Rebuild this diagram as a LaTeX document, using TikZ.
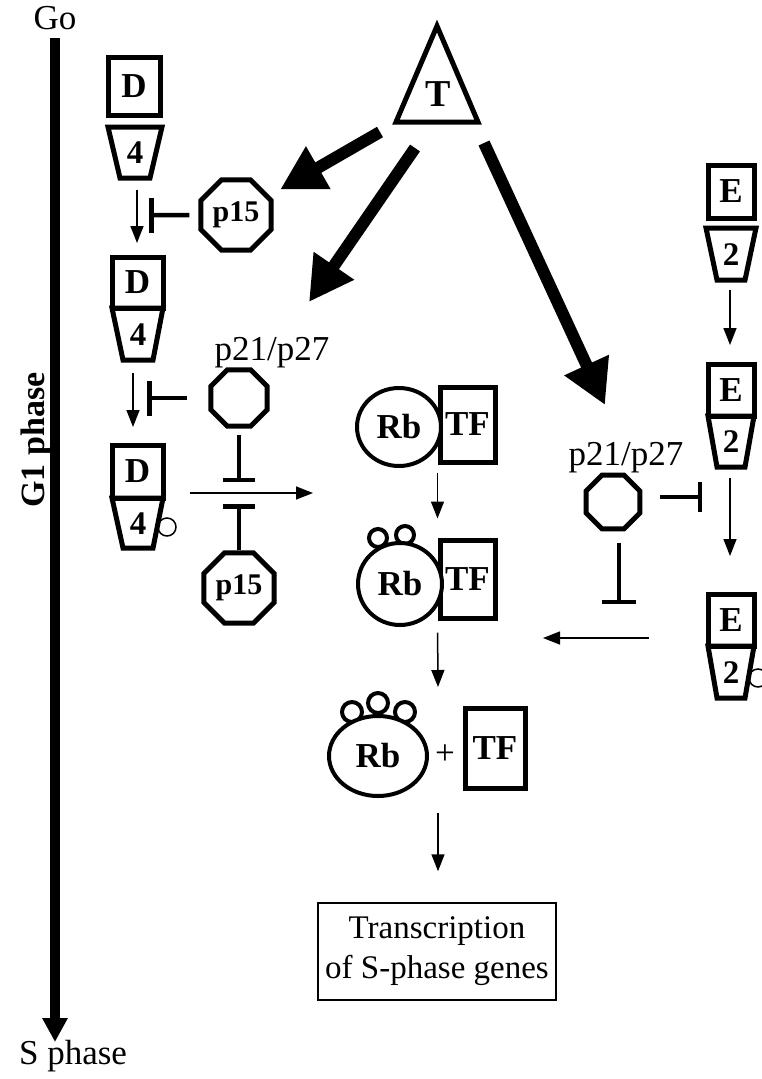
\documentclass[tikz,border=0pt]{standalone}
\usepackage{fontspec}
\setmainfont{Liberation Serif}
\usetikzlibrary{arrows.meta,shapes.geometric}
\newcommand\boldlbl{\bfseries\fontsize{35}{38}\selectfont}
\newcommand\numlbl{\bfseries\fontsize{33}{36}\selectfont}
\newcommand\plainlbl{\fontsize{35}{38}\selectfont}

\begin{document}
\begin{tikzpicture}[x=1pt,y=-1pt,
    unit/.style={draw,line width=5pt,inner sep=0pt,font=\boldlbl},
    cdk/.style={draw,line width=5pt,line join=miter},
    octo/.style={regular polygon,regular polygon sides=8,draw,line width=5pt,inner sep=0pt,
                 font=\bfseries\fontsize{30}{34}\selectfont},
    rbnode/.style={ellipse,draw,line width=4pt,fill=white,inner sep=0pt,font=\bfseries\fontsize{35}{38}\selectfont},
    phos/.style={circle,draw,line width=4pt,minimum size=18pt,inner sep=0pt},
    flow/.style={line width=1.5pt,-{Triangle[length=17pt,width=13pt]}},
    push/.style={line width=12pt,-{Triangle[length=44pt,width=46pt]}},
    block/.style={line width=4.5pt,-{Bar[width=#1]}},
    block/.default=34pt]
  \useasboundingbox (0,0) rectangle (761,1079);

  % time axis
  \node[font=\plainlbl] (go) at (55,18) {Go};
  \node[font=\plainlbl] (sph) at (73,1056) {S phase};
  \coordinate (axend) at (55,1042);
  \draw[line width=10pt,-{Triangle[length=24pt,width=24pt]},shorten <=5pt] (go.south) -- (axend);
  \node[rotate=90,font=\bfseries\fontsize{34}{38}\selectfont] (gone) at (36,440) {G1 phase};

  % cyclin D / cdk4
  \node[unit,minimum width=52pt,minimum height=58pt] (d1) at (134,86) {D};
  \draw[cdk] (108,127) -- (162,127) -- (150,178) -- (120,178) -- cycle;
  \node[font=\numlbl] (k1) at (135,153) {4};
  \coordinate (k1b) at (137,178);
  \node[unit,minimum width=51pt,minimum height=51pt] (d2) at (137.5,282.5) {D};
  \draw[cdk] (112,308) -- (163,308) -- (153,360) -- (123,360) -- cycle;
  \node[font=\numlbl] (k2) at (138,335) {4};
  \coordinate (k2b) at (133,360);
  \node[unit,minimum width=51pt,minimum height=53pt] (d3) at (137.5,471.5) {D};
  \draw[cdk] (112,498) -- (163,498) -- (153,548) -- (123,548) -- cycle;
  \node[font=\numlbl] (k3) at (138,524) {4};
  \draw[line width=1.5pt] (167,527) circle[radius=9];
  \draw[flow,shorten <=11.5pt,shorten >=11.5pt] (k1b) -- (k1b |- d2.north);
  \draw[flow,shorten <=12.5pt,shorten >=15.5pt] (k2b) -- (k2b |- d3.north);

  % inhibitors on the left
  \node[octo,minimum size=76pt] (p15a) at (236,215) {p15};
  \coordinate (bar1) at (149,215);
  \draw[block=35pt,shorten <=9pt] (p15a) -- (bar1);
  \node[octo,minimum size=61pt] (p21a) at (239,398) {};
  \node[font=\plainlbl] (l21a) at (272,353) {p21/p27};
  \coordinate (bar2) at (147,398);
  \draw[block=35pt,shorten <=21pt] (p21a) -- (bar2);
  \node[octo,minimum size=76pt] (p15b) at (239,588) {p15};
  \coordinate (arr1) at (313,493);
  \draw[flow,shorten <=24pt] (d3.east |- arr1) -- (arr1);
  \coordinate (bar3) at (239,482);
  \coordinate (bar4) at (239,504);
  \draw[block=32pt,shorten <=6pt] (p21a) -- (bar3);
  \draw[block=32pt] (p15b) -- (bar4);

  % T and its arrows
  \draw[line width=5pt,line join=miter] (437,26) -- (478,122) -- (396,122) -- cycle;
  \node[font=\bfseries\fontsize{38}{40}\selectfont] (tgf) at (438,94) {T};
  \coordinate (ta) at (380,132);
  \coordinate (tb) at (415,148);
  \coordinate (tc) at (484,143);
  \coordinate (eb) at (309,302);
  \coordinate (ec) at (605,405);
  \draw[push,shorten >=12pt] (ta) -- (p15a);
  \draw[push] (tb) -- (eb);
  \draw[push] (tc) -- (ec);

  % Rb and TF
  \node[unit,minimum width=55pt,minimum height=75pt] (tf1) at (467.5,424.5) {TF};
  \node[rbnode,minimum width=84pt,minimum height=78pt] (rb1) at (399,427) {Rb};
  \node[unit,minimum width=55pt,minimum height=78pt] (tf2) at (467.5,579) {TF};
  \node[phos] (ph1) at (378,538) {};
  \node[phos] (ph2) at (405,535) {};
  \node[rbnode,minimum width=84pt,minimum height=82pt] (rb2) at (400,584) {Rb};
  \draw[flow,shorten <=8pt,shorten >=19pt] (tf1.south west) -- (tf1.south west |- tf2.north);
  \coordinate (arr2) at (438,687);
  \draw[flow,shorten <=12pt] (tf2.south west) -- (arr2);
  \node[phos,minimum size=20pt] (ph3) at (352,712) {};
  \node[phos,minimum size=20pt] (ph4) at (378,703) {};
  \node[phos,minimum size=20pt] (ph5) at (405,712) {};
  \node[rbnode,minimum width=98pt,minimum height=80pt] (rb3) at (378,756) {Rb};
  \node[font=\plainlbl] (plus) at (445,755) {+};
  \node[unit,minimum width=60pt,minimum height=80pt] (tf3) at (495,748) {TF};
  \node[draw,line width=1.5pt,minimum width=238pt,minimum height=97pt,align=center,
        font=\fontsize{33}{40}\selectfont] (trn) at (437,951.5) {Transcription\\of S-phase genes};
  \draw[flow,shorten <=22pt,shorten >=31pt] (arr2 |- tf3.south) -- (arr2 |- trn.north);

  % cyclin E / cdk2
  \node[unit,minimum width=46pt,minimum height=53pt] (e1) at (731,191.5) {E};
  \draw[cdk] (706,228) -- (756,228) -- (745,280) -- (717,280) -- cycle;
  \node[font=\numlbl] (j1) at (731,255) {2};
  \coordinate (j1b) at (730,280);
  \node[unit,minimum width=46pt,minimum height=52pt] (e2) at (731,390) {E};
  \draw[cdk] (708,416) -- (754,416) -- (745,467) -- (717,467) -- cycle;
  \node[font=\numlbl] (j2) at (731,442) {2};
  \coordinate (j2b) at (730,467);
  \node[unit,minimum width=46pt,minimum height=52pt] (e3) at (731,620) {E};
  \draw[cdk] (708,646) -- (754,646) -- (745,698) -- (717,698) -- cycle;
  \node[font=\numlbl] (j3) at (731,673) {2};
  \draw[line width=1.5pt] (758,678) circle[radius=9];
  \draw[flow,shorten <=9.5pt,shorten >=16.5pt] (j1b) -- (j1b |- e2.north);
  \draw[flow,shorten <=10.5pt,shorten >=35.5pt] (j2b) -- (j2b |- e3.north);

  % inhibitor on the right
  \node[octo,minimum size=58pt] (p21b) at (613,502) {};
  \node[font=\plainlbl] (l21b) at (626,458) {p21/p27};
  \coordinate (bar5) at (702,497);
  \draw[block=30pt,shorten <=18pt] (p21b.east |- bar5) -- (bar5);
  \coordinate (bar6) at (619,604);
  \draw[block=34pt,shorten <=12pt] (p21b.south -| bar6) -- (bar6);
  \coordinate (arr3) at (543,638);
  \draw[flow,shorten <=57pt] (e3.west |- arr3) -- (arr3);
\end{tikzpicture}
\end{document}
